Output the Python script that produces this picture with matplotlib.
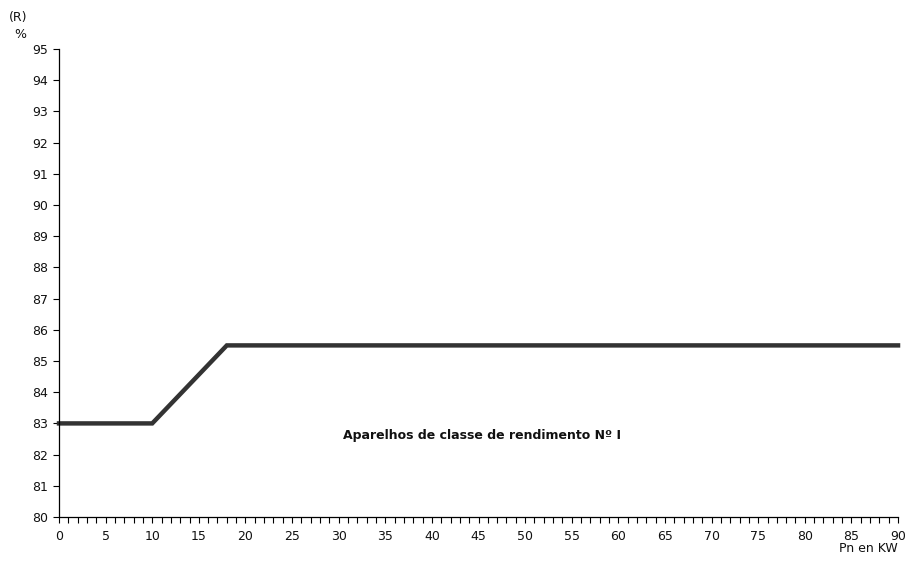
import matplotlib
matplotlib.use("Agg")
import matplotlib.pyplot as plt
from matplotlib.ticker import MultipleLocator

plt.rcParams['font.family'] = ['DejaVu Sans']

power_kw = [0, 10, 18, 90]
efficiency = [83, 83, 85.5, 85.5]
x_ticks = list(range(0, 91, 5))
y_ticks = list(range(80, 96))
label_text = "Aparelhos de classe de rendimento Nº I"

fig = plt.figure(figsize=(9.05, 5.61), dpi=100)
ax = fig.add_axes([0.0652, 0.0784, 0.9271, 0.8343])
ax.plot(power_kw, efficiency, color='#333333', linewidth=3.2, solid_joinstyle='miter', clip_on=False)
ax.set_xlim(0, 90)
ax.set_ylim(80, 95)
ax.set_xticks(x_ticks)
ax.set_yticks(y_ticks)
ax.xaxis.set_minor_locator(MultipleLocator(1))
ax.tick_params(axis='both', which='major', direction='out', length=4, width=0.8, labelsize=9, color='black', labelcolor='#111111')
ax.tick_params(axis='x', which='major', pad=5)
ax.tick_params(axis='x', which='minor', direction='out', length=4, width=0.8)
ax.tick_params(axis='y', pad=4)
for s in ['top', 'right']:
    ax.spines[s].set_visible(False)
for s in ['left', 'bottom']:
    ax.spines[s].set_linewidth(0.9)

ax.text(45.4, 82.6, label_text, fontsize=9, fontweight='bold', ha='center', va='center', color='#111111')
fig.text(18/905, 1 - 18/561, "(R)", fontsize=9, ha='center', va='center', color='#111111')
fig.text(20/905, 1 - 34/561, "%", fontsize=9, ha='center', va='center', color='#111111')
fig.text(898/905, 1 - 549/561, "Pn en KW", fontsize=9, ha='right', va='center', color='#111111')

fig.savefig("out.png", dpi=100)
